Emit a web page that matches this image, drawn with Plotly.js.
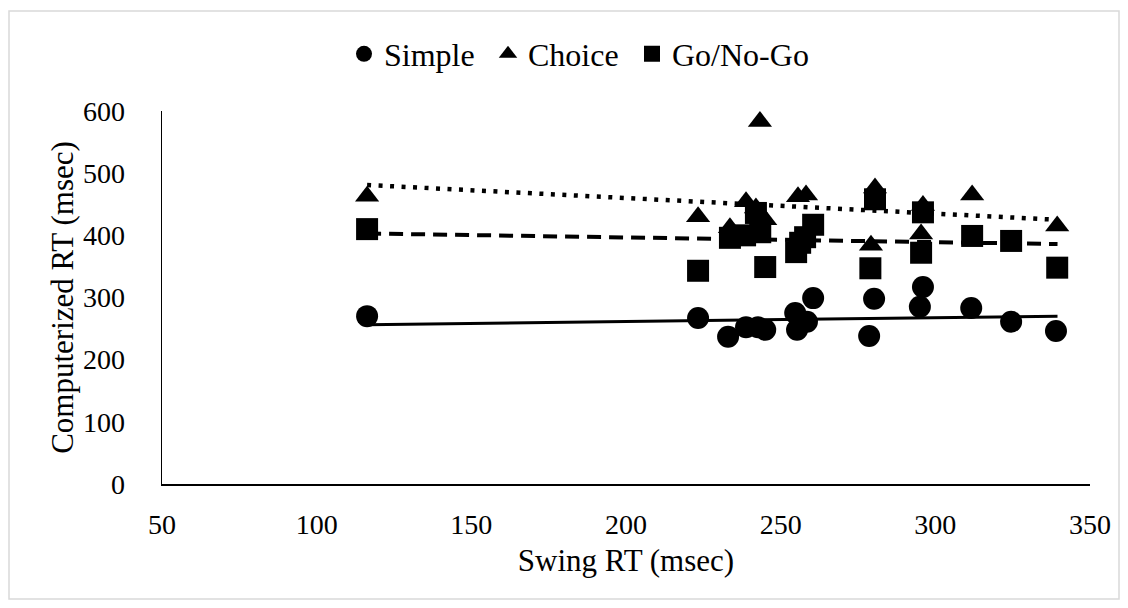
<!DOCTYPE html>
<html>
<head>
<meta charset="utf-8">
<script src="https://cdn.plot.ly/plotly-3.0.1.min.js"></script>
<style>
html,body{margin:0;padding:0;background:#fff;}
#chart{width:1128px;height:608px;}
</style>
</head>
<body>
<div id="chart"></div>
<script>
// Data
var seriesNames = ["Simple", "Choice", "Go/No-Go"];

var simpleX = [116.3, 223.3, 233, 238.8, 242.7, 245, 254.7, 255.3, 258.5, 260.5, 278.6, 280.2, 295, 296, 311.6, 324.5, 339];
var simpleY = [270, 267, 237, 252, 252, 248, 275, 248, 261, 299, 238, 298, 285, 317, 283, 261, 246];

var choiceX = [116.3, 223.3, 233.6, 238.8, 242, 243.3, 245, 255.6, 258.2, 279.2, 280.5, 295.4, 296, 311.9, 339.4];
var choiceY = [463, 430, 412, 454, 444, 583, 425, 462, 465, 384, 476, 402, 448, 465, 415];

var gonogoX = [116.3, 223.3, 233.6, 238.5, 242, 243.4, 245, 255, 256.3, 257.9, 260.5, 279, 280.5, 295.4, 296, 311.9, 324.5, 339.4];
var gonogoY = [410, 343, 396, 400, 436, 405, 349, 373, 388, 397, 417, 347, 458, 372, 437, 399, 391, 348];

// Linear trendline endpoints as drawn in the reference
var trendX = [116.3, 339.5];
var simpleTrendY = [256, 270];
var choiceTrendY = [481, 425];
var gonogoTrendY = [403, 386];

var xTicks = [50, 100, 150, 200, 250, 300, 350];
var yTicks = [0, 100, 200, 300, 400, 500, 600];

var FONT = '"Liberation Serif", "Times New Roman", serif';

var traces = [
  {x: simpleX, y: simpleY, name: seriesNames[0], type: "scatter", mode: "markers",
   marker: {symbol: "circle", size: 22, color: "#000"}, legendwidth: 99},
  {x: choiceX, y: choiceY, name: seriesNames[1], type: "scatter", mode: "markers",
   marker: {symbol: "triangle-up", size: 21, color: "#000"}, legendwidth: 99},
  {x: gonogoX, y: gonogoY, name: seriesNames[2], type: "scatter", mode: "markers",
   marker: {symbol: "square", size: 22, color: "#000"}, legendwidth: 150},
  {x: trendX, y: simpleTrendY, type: "scatter", mode: "lines", showlegend: false, hoverinfo: "skip",
   line: {color: "#000", width: 3}},
  {x: trendX, y: choiceTrendY, type: "scatter", mode: "lines", showlegend: false, hoverinfo: "skip",
   line: {color: "#000", width: 4.5, dash: "4px,7.5px"}},
  {x: trendX, y: gonogoTrendY, type: "scatter", mode: "lines", showlegend: false, hoverinfo: "skip",
   line: {color: "#000", width: 4, dash: "14px,8px"}}
];

var L = 162, R = 1090, T = 111, B = 484;
var W = R - L, H = B - T;

var layout = {
  width: 1128, height: 608,
  margin: {l: L, r: 1128 - R, t: T, b: 608 - B, pad: 0},
  paper_bgcolor: "#fff", plot_bgcolor: "#fff",
  font: {family: FONT, color: "#000", size: 28},
  showlegend: true,
  legend: {
    orientation: "h", xref: "container", yref: "container",
    x: 344 / 1128, xanchor: "left", y: 1 - 54 / 608, yanchor: "middle",
    font: {family: FONT, size: 32, color: "#000"},
    bgcolor: "rgba(0,0,0,0)", itemwidth: 30, entrywidthmode: "pixels"
  },
  xaxis: {
    range: [50, 350], tickvals: xTicks, ticktext: xTicks.map(String),
    showgrid: false, zeroline: false, showline: true, linecolor: "#000", linewidth: 1.5,
    ticks: "", ticklabelstandoff: 15,
    tickfont: {family: FONT, size: 28, color: "#000"},
    title: {text: "Swing RT (msec)", font: {family: FONT, size: 31, color: "#000"}, standoff: 10},
    automargin: false, fixedrange: true
  },
  yaxis: {
    range: [0, 600], tickvals: yTicks, ticktext: yTicks.map(String),
    showgrid: false, zeroline: false, showline: true, linecolor: "#000", linewidth: 1.5,
    ticks: "", ticklabelstandoff: 30,
    tickfont: {family: FONT, size: 28, color: "#000"},
    title: {text: "Computerized RT (msec)", font: {family: FONT, size: 31, color: "#000"}, standoff: 0},
    automargin: false, fixedrange: true
  },
  shapes: [{
    type: "rect", xref: "paper", yref: "paper",
    x0: (9 - L) / W, x1: (1119 - L) / W,
    y0: (B - 599) / H, y1: (B - 11) / H,
    line: {color: "#d9d9d9", width: 1.5}, fillcolor: "rgba(0,0,0,0)", layer: "below"
  }]
};

Plotly.newPlot("chart", traces, layout, {displayModeBar: false, staticPlot: true});
</script>
</body>
</html>
